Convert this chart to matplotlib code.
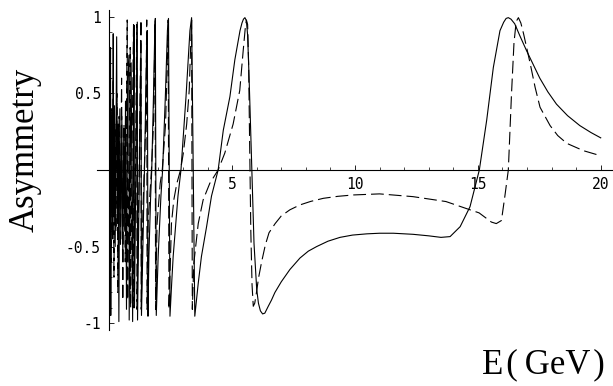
import matplotlib
matplotlib.use("Agg")
import matplotlib.pyplot as plt

# solid curve (E in GeV, asymmetry)
solid_E = [0.02, 0.04, 0.05, 0.06, 0.08, 0.10, 0.12, 0.14, 0.16, 0.18,
           0.21, 0.24, 0.27, 0.30, 0.33, 0.36, 0.39, 0.43, 0.47, 0.51,
           0.55, 0.59, 0.63, 0.66, 0.70, 0.75, 0.80, 0.81, 0.86, 0.89,
           0.95, 0.98, 1.01, 1.025, 1.08, 1.14, 1.15, 1.20, 1.24, 1.29,
           1.31, 1.36, 1.405, 1.45, 1.483, 1.53, 1.55, 1.575, 1.611, 1.684,
           1.728, 1.798, 1.845, 1.874, 1.912, 1.953, 1.989, 2.102, 2.17, 2.282,
           2.366, 2.41, 2.47, 2.539, 2.6, 2.795, 2.917, 3.123, 3.282, 3.35,
           3.48, 3.62, 3.75, 3.96, 4.16, 4.43, 4.64, 4.91, 5.11, 5.32,
           5.40, 5.46, 5.52, 5.58, 5.63, 5.68, 5.73, 5.8, 5.89, 6.0,
           6.07, 6.15, 6.24, 6.33, 6.47, 6.6, 6.74, 7.0, 7.35, 7.76,
           8.1, 8.44, 8.9, 9.39, 9.9, 10.48, 11.0, 11.56, 12.36, 13.0,
           13.5, 13.87, 14.28, 14.68, 15.06, 15.36, 15.63, 15.9, 16.05, 16.15,
           16.24, 16.35, 16.5, 16.7, 16.98, 17.25, 17.52, 17.85, 18.2, 18.65,
           19.15, 19.6, 20.0]
solid_A = [0.10, 0.30, 0.80, -0.95, 0.32, -0.25, 0.38, -0.45, 0.89, -0.30,
           0.42, -0.50, 0.20, 0.87, -0.35, 0.30, -0.99, 0.40, -0.45, 0.35,
           -0.60, 0.25, -0.40, 0.45, -0.91, 0.60, 0.75, -0.98, 0.20, 0.70,
           -0.99, 0.30, 0.945, -0.90, 0.0, 0.966, -0.98, -0.30, 0.20, 0.825,
           -0.95, -0.55, -0.17, 0.15, 0.48, 0.85, 0.91, -0.955, -0.565, -0.17,
           0.0, 0.48, 0.85, 0.99, -0.95, -0.74, -0.565, -0.17, 0.0, 0.48,
           0.91, 0.99, -0.955, -0.74, -0.565, -0.17, 0.0, 0.48, 0.91, 0.995,
           -0.955, -0.74, -0.565, -0.37, -0.17, 0.0, 0.26, 0.48, 0.72, 0.91,
           0.96, 0.985, 0.995, 0.975, 0.88, 0.65, 0.39, 0.0, -0.48, -0.78,
           -0.87, -0.92, -0.94, -0.935, -0.89, -0.85, -0.80, -0.73, -0.65, -0.575,
           -0.53, -0.50, -0.465, -0.44, -0.425, -0.417, -0.413, -0.413, -0.42, -0.43,
           -0.44, -0.435, -0.37, -0.24, 0.0, 0.326, 0.67, 0.91, 0.965, 0.99,
           0.995, 0.985, 0.955, 0.88, 0.78, 0.69, 0.60, 0.51, 0.43, 0.355,
           0.29, 0.245, 0.21]

# dashed curve
dash_E = [0.02, 0.05, 0.07, 0.10, 0.13, 0.16, 0.19, 0.23, 0.27, 0.31,
          0.35, 0.40, 0.45, 0.50, 0.55, 0.60, 0.65, 0.73, 0.75, 0.80,
          0.85, 0.87, 0.93, 0.987, 0.993, 1.064, 1.119, 1.126, 1.217, 1.29,
          1.30, 1.37, 1.424, 1.482, 1.525, 1.539, 1.579, 1.715, 1.80, 1.845,
          1.864, 1.885, 1.944, 2.072, 2.156, 2.29, 2.371, 2.396, 2.43, 2.53,
          2.626, 2.75, 2.90, 3.013, 3.15, 3.253, 3.305, 3.35, 3.38, 3.44,
          3.62, 3.82, 4.09, 4.43, 4.70, 5.04, 5.31, 5.45, 5.53, 5.58,
          5.63, 5.67, 5.71, 5.76, 5.81, 5.86, 5.92, 5.99, 6.08, 6.2,
          6.35, 6.5, 6.75, 7.0, 7.35, 7.76, 8.2, 8.71, 9.3, 9.93,
          11.0, 12.36, 13.7, 14.5, 15.05, 15.55, 15.75, 15.96, 16.1, 16.24,
          16.37, 16.47, 16.56, 16.65, 16.75, 16.86, 17.13, 17.33, 17.53, 17.94,
          18.25, 18.62, 19.3, 20.0]
dash_A = [-0.20, 0.50, -0.60, 0.40, -0.30, 0.60, -0.70, 0.30, -0.40, 0.50,
          -0.80, 0.35, -0.50, 0.60, -0.85, 0.30, -0.60, 0.98, -0.85, 0.10,
          0.80, -0.90, 0.20, 0.95, -0.90, 0.0, 0.95, -0.91, 0.0, 0.98,
          -0.91, -0.25, 0.0, 0.30, 0.98, -0.91, -0.35, 0.0, 0.30, 0.78,
          0.98, -0.91, -0.35, -0.087, 0.0, 0.30, 0.78, 0.98, -0.91, -0.35,
          -0.195, -0.087, 0.0, 0.11, 0.30, 0.52, 0.78, 0.98, -0.91, -0.61,
          -0.35, -0.195, -0.087, 0.0, 0.11, 0.30, 0.52, 0.78, 0.92, 0.98,
          0.95, 0.70, 0.20, -0.40, -0.75, -0.89, -0.87, -0.80, -0.70, -0.60,
          -0.49, -0.41, -0.35, -0.30, -0.26, -0.228, -0.205, -0.185, -0.172, -0.163,
          -0.156, -0.174, -0.206, -0.25, -0.28, -0.34, -0.35, -0.33, -0.17, 0.0,
          0.50, 0.83, 0.97, 0.995, 0.96, 0.89, 0.695, 0.54, 0.41, 0.29,
          0.225, 0.174, 0.126, 0.093]

x_major = [5, 10, 15, 20]
x_minor = [1, 2, 3, 4, 6, 7, 8, 9, 11, 12, 13, 14, 16, 17, 18, 19]
y_major = [-1, -0.5, 0.5, 1]
y_labels = ['-1', '-0.5', '0.5', '1']
y_minor = [-0.9, -0.8, -0.7, -0.6, -0.4, -0.3, -0.2, -0.1,
           0.1, 0.2, 0.3, 0.4, 0.6, 0.7, 0.8, 0.9]

fig = plt.figure(figsize=(6.13, 3.86), dpi=100)
ax = fig.add_axes([97 / 613, 1 - 330 / 386, 516 / 613, 320 / 386])

ax.plot(solid_E, solid_A, color='black', lw=0.8)
ax.plot(dash_E, dash_A, color='black', lw=0.8, dashes=(11.5, 4.5))

ax.set_xlim(-0.5, 20.5)
ax.set_ylim(-1.045, 1.045)

# Mathematica-style axes crossing at the origin
ax.spines['left'].set_position(('data', 0))
ax.spines['bottom'].set_position(('data', 0))
ax.spines['top'].set_visible(False)
ax.spines['right'].set_visible(False)
for s in ('left', 'bottom'):
    ax.spines[s].set_linewidth(0.8)

ax.set_xticks(x_major)
ax.set_xticklabels([str(v) for v in x_major])
ax.set_xticks(x_minor, minor=True)
ax.set_yticks(y_major)
ax.set_yticklabels(y_labels)
ax.set_yticks(y_minor, minor=True)

ax.tick_params(which='major', direction='in', length=3.8, width=0.6)
ax.tick_params(which='minor', direction='in', length=2.0, width=0.5)
ax.tick_params(axis='x', which='major', pad=5)
ax.tick_params(axis='y', which='major', pad=6)
for lab in ax.get_xticklabels() + ax.get_yticklabels():
    lab.set_fontfamily('DejaVu Sans Mono')
    lab.set_fontsize(10.5)

fig.text(25 / 613, 1 - 150 / 386, 'Asymmetry', rotation=90, family='Liberation Serif',
         fontsize=25, ha='center', va='center')
fig.text(605 / 613, 1 - 373 / 386, 'E\u200a(\u2009GeV\u200a)', family='Liberation Serif',
         fontsize=25, ha='right', va='baseline')

fig.savefig('out.png', dpi=100)
